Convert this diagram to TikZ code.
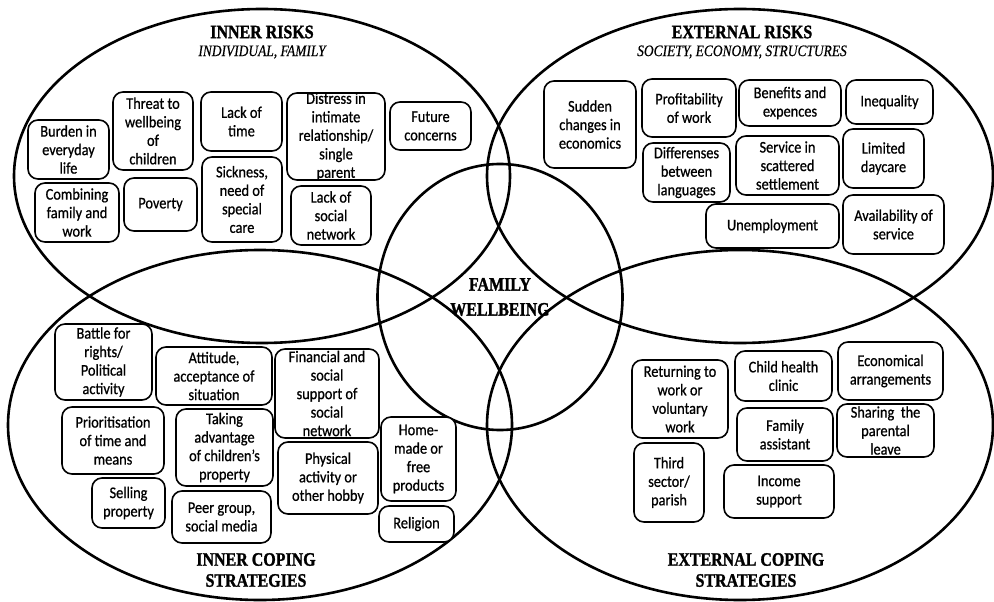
\documentclass[tikz,border=0pt]{standalone}
\usepackage{fontspec}
\setmainfont{Liberation Serif}
\newfontfamily\titlebold[FakeBold=1.6]{Liberation Serif Bold}
\newfontfamily\titleital[FakeBold=0.5]{Liberation Serif Italic}
\newfontfamily\boxfont[FakeBold=0.8]{Carlito}
\begin{document}
\begin{tikzpicture}[x=1pt,y=-1pt,
  venn/.style={line width=2.6pt},
  boxshape/.style={draw, line width=1.6pt, rounded corners=10pt, fill=white, inner sep=0pt},
  boxtext/.style={align=center, inner sep=0pt, transform shape, xscale=0.88, font=\boxfont\fontsize{16.3}{18.5}\selectfont},
  ttl/.style={align=center, inner sep=0pt, transform shape, xscale=0.84, font=\titlebold\fontsize{19}{21}\selectfont},
  sub/.style={align=center, inner sep=0pt, transform shape, xscale=0.84, font=\titleital\fontsize{16}{18}\selectfont},
  mid/.style={align=center, inner sep=0pt, transform shape, xscale=0.84, font=\titlebold\fontsize{19}{25}\selectfont}
]
\newcommand\bx[6]{\node[boxshape, minimum width=#4pt, minimum height=#5pt] (#1) at (#2,#3) {};
  \node[boxtext] (#1t) at (#1.center) {#6};}
\useasboundingbox (0,0) rectangle (994,602);
% ellipses
\draw[venn] (262,176) ellipse [x radius=248pt, y radius=167pt];
\draw[venn] (740,176) ellipse [x radius=253pt, y radius=167pt];
\draw[venn] (260,425) ellipse [x radius=252pt, y radius=175pt];
\draw[venn] (740,425) ellipse [x radius=253pt, y radius=175pt];
\draw[venn] (500,297) ellipse [x radius=122.5pt, y radius=133pt];
% titles
\node[ttl] (t1) at (262,32) {INNER RISKS};
\node[sub] (s1) at (262,52) {INDIVIDUAL, FAMILY};
\node[ttl] (t2) at (742,32) {EXTERNAL RISKS};
\node[sub] (s2) at (742,52) {SOCIETY, ECONOMY, STRUCTURES};
\node[ttl] (t3) at (256,570) {INNER COPING\\STRATEGIES};
\node[ttl] (t4) at (746,570) {EXTERNAL COPING\\STRATEGIES};
\node[mid] (fw) at (500,297) {FAMILY\\WELLBEING};
% inner risks
\bx{burden}{68.5}{149.5}{81}{59}{Burden in\\everyday\\life}
\bx{threat}{153}{131}{80}{78}{Threat to\\wellbeing\\of\\children}
\bx{lacktime}{241.5}{121.5}{81}{59}{Lack of\\time}
\bx{distress}{336}{136.5}{98}{87}{Distress in\\intimate\\relationship/\\single\\parent}
\bx{future}{430.5}{126}{81}{48}{Future\\concerns}
\bx{combining}{77}{212.5}{84}{59}{Combining\\family and\\work}
\bx{poverty}{160.5}{204.5}{73}{53}{Poverty}
\bx{sickness}{242}{199.5}{80}{85}{Sickness,\\need of\\special\\care}
\bx{lacksocial}{331}{215.5}{80}{59}{Lack of\\social\\network}
% external risks
\bx{sudden}{590}{124.5}{92}{87}{Sudden\\changes in\\economics}
\bx{profit}{689}{108}{94}{58}{Profitability\\of work}
\bx{benefits}{790}{103}{102}{46}{Benefits and\\expences}
\bx{inequality}{889.5}{102}{87}{44}{Inequality}
\bx{differenses}{686.5}{172.5}{87}{59}{Differenses\\between\\languages}
\bx{service}{787.5}{165.5}{103}{59}{Service in\\scattered\\settlement}
\bx{daycare}{883.5}{158.5}{81}{59}{Limited\\daycare}
\bx{unemployment}{772.5}{226}{133}{44}{Unemployment}
\bx{availability}{893.5}{224.5}{101}{59}{Availability of\\service}
% inner coping
\bx{battle}{103.5}{362}{97}{76}{Battle for\\rights/\\Political\\activity}
\bx{attitude}{214}{376}{116}{58}{Attitude,\\acceptance of\\situation}
\bx{financial}{327}{393.5}{104}{89}{Financial and\\social\\support of\\social\\network}
\bx{prioritisation}{113}{440.5}{102}{67}{Prioritisation\\of time and\\means}
\bx{taking}{224.5}{447.5}{97}{77}{Taking\\advantage\\of children’s\\property}
\bx{homemade}{418.5}{459}{75}{84}{Home-\\made or\\free\\products}
\bx{physical}{328}{478}{100}{72}{Physical\\activity or\\other hobby}
\bx{selling}{128.5}{503}{73}{50}{Selling\\property}
\bx{peer}{221.5}{517}{99}{52}{Peer group,\\social media}
\bx{religion}{416.5}{524}{75}{36}{Religion}
% external coping
\bx{returning}{680}{399}{96}{78}{Returning to\\work or\\voluntary\\work}
\bx{childhealth}{783.5}{376}{97}{50}{Child health\\clinic}
\bx{economical}{890.5}{371}{105}{58}{Economical\\arrangements}
\bx{familyassist}{785}{434.5}{96}{53}{Family\\assistant}
\bx{sharing}{885.5}{430.5}{97}{53}{Sharing~ the\\parental\\leave}
\bx{third}{669}{482.5}{70}{79}{Third\\sector/\\parish}
\bx{income}{779}{491.5}{110}{53}{Income\\support}
\end{tikzpicture}
\end{document}
